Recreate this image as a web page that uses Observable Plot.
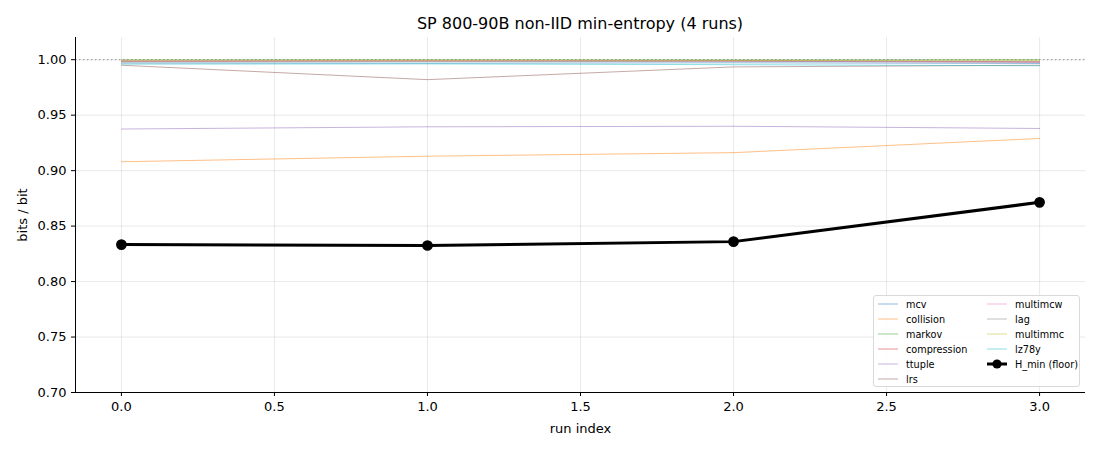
<!DOCTYPE html>
<html><head><meta charset="utf-8">
<script src="https://cdn.jsdelivr.net/npm/d3@7"></script>
<script src="https://cdn.jsdelivr.net/npm/@observablehq/plot@0.6"></script>
<style>
body{margin:0;background:#fff;font-family:"DejaVu Sans",sans-serif;}
#wrap{position:relative;width:1100px;height:450px;}
#title{position:absolute;top:14px;left:0;width:1160px;text-align:center;font-size:16px;color:#000;}
#legend{position:absolute;left:873px;top:295px;width:205px;height:90px;border:1px solid #d9d9d9;border-radius:3px;background:rgba(255,255,255,0.85);font-size:9.7px;color:#000;}
.item{position:absolute;display:flex;align-items:center;height:14px;white-space:nowrap;}
.item svg{margin-right:7px;}
</style></head><body>
<div id="wrap"><div id="title">SP 800-90B non-IID min-entropy (4 runs)</div><div id="chart"></div><div id="legend"></div></div>
<script>
const runs = [0, 1, 2, 3];
const names = ["mcv","collision","markov","compression","ttuple","lrs","multimcw","lag","multimmc","lz78y"];
const colors = ["#1f77b4","#ff7f0e","#2ca02c","#d62728","#9467bd","#8c564b","#e377c2","#7f7f7f","#bcbd22","#17becf"];
const mcv = [0.9970, 0.9968, 0.9972, 0.9966];
const collision = [0.9080, 0.9130, 0.9162, 0.9290];
const markov = [0.9997, 0.9998, 0.9997, 0.9998];
const compression = [0.9985, 0.9988, 0.9990, 0.9982];
const ttuple = [0.9375, 0.9395, 0.9400, 0.9380];
const lrs = [0.9950, 0.9820, 0.9935, 0.9950];
const multimcw = [0.9990, 0.9992, 0.9988, 0.9975];
const lag = [0.9980, 0.9982, 0.9985, 0.9978];
const multimmc = [0.9995, 0.9996, 0.9994, 0.9995];
const lz78y = [0.9960, 0.9962, 0.9955, 0.9945];
const hmin = [0.8333, 0.8325, 0.8360, 0.8714];
const xTicks = [0, 0.5, 1, 1.5, 2, 2.5, 3];
const yTicks = [0.70, 0.75, 0.80, 0.85, 0.90, 0.95, 1.00];

const series = [mcv, collision, markov, compression, ttuple, lrs, multimcw, lag, multimmc, lz78y];
const rows = [];
series.forEach((vals, i) => vals.forEach((v, j) => rows.push({name: names[i], run: runs[j], v})));
const hrows = hmin.map((v, j) => ({run: runs[j], v}));
const xDom = [-0.15, 3.15], yDom = [0.70, 1.02];

const chart = Plot.plot({
  width: 1100, height: 450,
  marginTop: 37, marginBottom: 58, marginLeft: 75, marginRight: 15,
  style: {fontFamily: "DejaVu Sans, sans-serif", fontSize: "13px", color: "#000", background: "#fff"},
  x: {domain: xDom},
  y: {domain: yDom},
  color: {domain: names, range: colors},
  marks: [
    Plot.gridX(xTicks, {stroke: "#b0b0b0", strokeOpacity: 0.35, strokeWidth: 0.8}),
    Plot.gridY(yTicks, {stroke: "#b0b0b0", strokeOpacity: 0.35, strokeWidth: 0.8}),
    Plot.ruleY([1.0], {stroke: "#888", strokeWidth: 1, strokeDasharray: "1.5,2.5", strokeOpacity: 0.9}),
    Plot.line(rows, {x: "run", y: "v", z: "name", stroke: "name", strokeWidth: 1, strokeOpacity: 0.5}),
    Plot.line(hrows, {x: "run", y: "v", stroke: "#000", strokeWidth: 3}),
    Plot.dot(hrows, {x: "run", y: "v", r: 4.6, fill: "#000", stroke: "#000"}),
    Plot.ruleX([xDom[0]], {stroke: "#000", strokeWidth: 1}),
    Plot.ruleY([yDom[0]], {stroke: "#000", strokeWidth: 1}),
    Plot.axisX(xTicks, {tickFormat: d3.format(".1f"), tickSize: 4, tickPadding: 5, label: "run index", labelAnchor: "center", labelArrow: "none", labelOffset: 40, fontSize: 13}),
    Plot.axisY(yTicks, {tickFormat: d3.format(".2f"), tickSize: 4, tickPadding: 5, label: "bits / bit", labelAnchor: "center", labelArrow: "none", labelOffset: 58, fontSize: 13})
  ]
});
document.getElementById("chart").appendChild(chart);

// legend
const leg = document.getElementById("legend");
const entries = names.map((n, i) => ({label: n, color: colors[i], dot: false}));
entries.push({label: "H_min (floor)", color: "#000", dot: true});
entries.forEach((e, i) => {
  const col = i < 6 ? 0 : 1;
  const row = i < 6 ? i : i - 6;
  const div = document.createElement("div");
  div.className = "item";
  div.style.left = (col === 0 ? 3 : 112) + "px";
  div.style.top = (1 + row * 15) + "px";
  const sw = e.dot
    ? `<svg width="22" height="12"><line x1="1" x2="21" y1="6" y2="6" stroke="#000" stroke-width="3"/><circle cx="11" cy="6" r="4.6" fill="#000"/></svg>`
    : `<svg width="22" height="12"><line x1="1" x2="21" y1="6" y2="6" stroke="${e.color}" stroke-opacity="0.5" stroke-width="1"/></svg>`;
  div.innerHTML = sw + `<span>${e.label}</span>`;
  leg.appendChild(div);
});
</script></body></html>
